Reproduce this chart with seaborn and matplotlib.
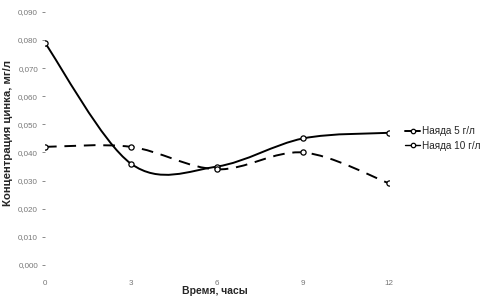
import numpy as np
import pandas as pd
import seaborn as sns
import matplotlib.pyplot as plt
from matplotlib.path import Path
from matplotlib.patches import PathPatch
from matplotlib.lines import Line2D

hours = [0, 3, 6, 9, 12]
naiada_5 = [0.079, 0.036, 0.035, 0.045, 0.047]
naiada_10 = [0.042, 0.042, 0.034, 0.040, 0.029]
labels = ['Наяда 5 г/л', 'Наяда 10 г/л']
yticks = [0.0, 0.01, 0.02, 0.03, 0.04, 0.05, 0.06, 0.07, 0.08, 0.09]

sns.set_style('white')
plt.rcParams['font.family'] = ['Liberation Sans', 'DejaVu Sans']

fig = plt.figure(figsize=(4.97, 2.98), dpi=100)
ax = fig.add_axes([0.0905, 0.111, 0.6925, 0.849])


def smooth_path(xs, ys):
    # excel-like smoothed line: catmull-rom segments as cubic beziers
    pts = np.column_stack([xs, ys]).astype(float)
    ext = np.vstack([pts[0], pts, pts[-1]])
    verts = [tuple(pts[0])]
    codes = [Path.MOVETO]
    for i in range(1, len(ext) - 2):
        p0, p1, p2, p3 = ext[i - 1], ext[i], ext[i + 1], ext[i + 2]
        c1 = p1 + (p2 - p0) / 6
        c2 = p2 - (p3 - p1) / 6
        verts += [tuple(c1), tuple(c2), tuple(p2)]
        codes += [Path.CURVE4] * 3
    return Path(verts, codes)


styles = [dict(ls='-', lw=1.4), dict(ls=(0, (6, 4)), lw=1.4)]
for ys, st in zip([naiada_5, naiada_10], styles):
    ax.add_patch(PathPatch(smooth_path(hours, ys), fill=False, edgecolor='black',
                           linestyle=st['ls'], linewidth=st['lw'], zorder=2))

df = pd.DataFrame({'hours': hours * 2,
                   'value': naiada_5 + naiada_10,
                   'series': [labels[0]] * 5 + [labels[1]] * 5})
sns.scatterplot(data=df, x='hours', y='value', ax=ax, marker='o', s=14,
                facecolor='white', edgecolor='black', linewidth=0.9,
                legend=False, zorder=3)

ax.set_xlim(0, 12)
ax.set_ylim(0, 0.09)
ax.set_xticks(hours)
ax.set_yticks(yticks)
ax.set_yticklabels([f'{v:.3f}'.replace('.', ',') for v in yticks])
ax.tick_params(axis='y', labelsize=5.8, labelcolor='#777777', length=2,
               width=0.6, color='#777777', left=True, pad=3)
ax.tick_params(axis='x', labelsize=5.8, labelcolor='#777777', bottom=False, pad=7)
for s in ax.spines.values():
    s.set_visible(False)

ax.set_xlabel('Время, часы', fontsize=7.5, fontweight='bold', va='center')
ax.set_ylabel('Концентрация цинка, мг/л', fontsize=8.2, fontweight='bold', va='center')
ax.xaxis.set_label_coords(0.494, -0.102)
ax.yaxis.set_label_coords(-0.107, 0.52)

handles = [Line2D([], [], color='black', lw=1.4, marker='o', markersize=3.2,
                  markerfacecolor='white', markeredgewidth=0.9),
           Line2D([], [], color='black', lw=1.0, marker='o', markersize=3.2,
                  markerfacecolor='white', markeredgewidth=0.9)]
fig.legend(handles, labels, loc='center left', bbox_to_anchor=(0.797, 0.535),
           frameon=False, fontsize=7.2, handlelength=1.5, handletextpad=0.15,
           labelspacing=0.45)

fig.savefig('out.png', dpi=100)
